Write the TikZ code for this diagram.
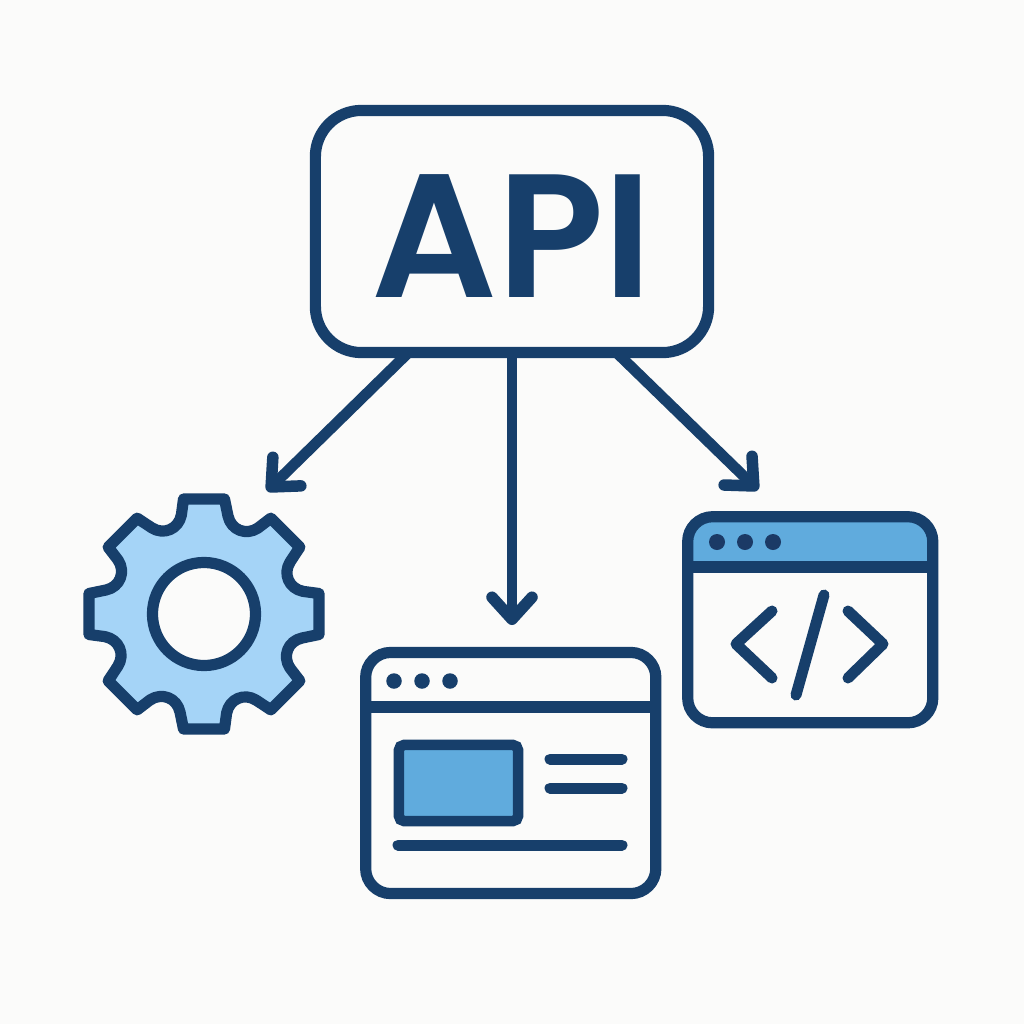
\documentclass[tikz,border=0pt]{standalone}
\usepackage{fontspec}
\newfontfamily\apifont{Poppins SemiBold}
\usetikzlibrary{arrows.meta}
\definecolor{bgc}{HTML}{FBFBFA}
\definecolor{ink}{HTML}{173F6B}
\definecolor{dotink}{HTML}{1B3A66}
\definecolor{lightb}{HTML}{A5D4F7}
\definecolor{midb}{HTML}{60ABDD}
\tikzset{
  apibox/.style={draw=ink,line width=1.12mm,rounded corners=4.6mm,minimum width=39.3mm,minimum height=24.2mm,inner sep=0pt,outer sep=0pt},
  win/.style={draw=ink,line width=1.12mm,rounded corners=2.5mm,inner sep=0pt,outer sep=0pt},
  conn/.style={draw=ink,line width=1.08mm,-{Straight Barb[length=2.2mm,width=4.0mm,line width=1.15mm,round]}},
  stroke/.style={draw=ink,line width=1.1mm,line cap=round,line join=round},
  dotm/.style={circle,fill=ink,minimum size=1.55mm,inner sep=0pt,outer sep=0pt},
  dotc/.style={circle,fill=dotink,minimum size=1.6mm,inner sep=0pt,outer sep=0pt},
  gearline/.style={draw=ink,line width=1.12mm,line join=round,fill=lightb},
}
\begin{document}
\begin{tikzpicture}[x=0.01cm,y=-0.01cm]
\useasboundingbox (0,0) rectangle (1024,1024);
\fill[bgc] (0,0) rectangle (1024,1024);

% gear
\begin{scope}[shift={(204,614)}]
\path[gearline] (-20.5,-115)
  \foreach \a in {0,-45,-90,-135,-180,-225,-270,-315} {
    -- ([rotate=\a]20.5,-115) -- ([rotate=\a]24,-98)
    .. controls ([rotate=\a]27,-84) and ([rotate=\a]42,-78) .. ([rotate=\a]54,-86)
    -- ([rotate=\a-45]-20.5,-115)
  } -- cycle;
\end{scope}
\node[circle,draw=ink,fill=bgc,line width=1.12mm,minimum size=10.3mm,inner sep=0pt,outer sep=0pt] (gearhole) at (204,614) {};
\coordinate (gearin) at (267,491);

% API box
\node[apibox] (api) at (512,231.5) {};
\node[anchor=base,inner sep=0pt,text=ink,font=\apifont\fontsize{50}{50}\selectfont] (apilabel) at (512,297) {API};
\coordinate (apil) at (408,353);
\coordinate (apir) at (617,353);

% code window
\fill[midb,rounded corners=2.4mm] (688,567) -- (688,517) -- (933,517) -- (933,567);
\node[win,minimum width=24.5mm,minimum height=20.6mm] (codewin) at (810.25,619.75) {};
\draw[draw=ink,line width=1.12mm] (codewin.west |- 0,567) -- (codewin.east |- 0,567);
\node[dotc] (cd1) at (717,542) {};
\node[dotc] (cd2) at (745,542) {};
\node[dotc] (cd3) at (773,542) {};
\draw[stroke] (772,611) -- (736,644) -- (772,678);
\draw[stroke] (848,611) -- (883,644) -- (848,678);
\draw[stroke] (824,595) -- (796,695);
\coordinate (codein) at (758,490);

% page window
\node[win,minimum width=29mm,minimum height=24.1mm] (pagewin) at (510.75,773) {};
\draw[draw=ink,line width=1.12mm] (pagewin.west |- 0,707) -- (pagewin.east |- 0,707);
\node[dotm] (pd1) at (394,681) {};
\node[dotm] (pd2) at (422,681) {};
\node[dotm] (pd3) at (450,681) {};
\node[draw=ink,fill=midb,line width=1.05mm,rounded corners=0.5mm,minimum width=11.9mm,minimum height=7.6mm,inner sep=0pt,outer sep=0pt] (pic) at (458.5,783) {};
\draw[stroke] (550,759) -- (622,759);
\draw[stroke] (550,788) -- (622,788);
\draw[stroke] (398,845) -- (622,845);
\coordinate (pagein) at (512,625);

% connectors
\draw[conn] (apil) -- (gearin);
\draw[conn] (api.south) -- (pagein);
\draw[conn] (apir) -- (codein);
\end{tikzpicture}
\end{document}
